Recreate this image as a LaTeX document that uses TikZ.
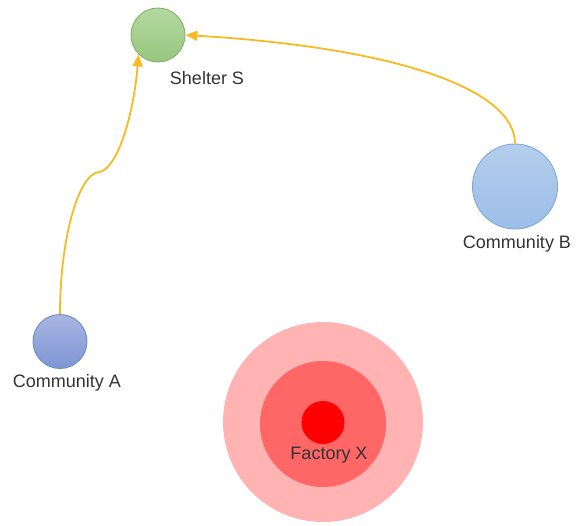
\documentclass[tikz,border=0pt]{standalone}
\usepackage{fontspec}
\setmainfont{Liberation Sans}
\usetikzlibrary{arrows.meta}
\definecolor{edgeorange}{HTML}{F9B920}
\definecolor{txt}{HTML}{333333}
\begin{document}
\begin{tikzpicture}[x=1pt,y=-1pt,
  lbl/.style={text=txt,font=\fontsize{18}{20}\selectfont,inner sep=0pt},
  site/.style={circle,draw,line width=0.9pt,inner sep=0pt},
  route/.style={draw=edgeorange,line width=1.8pt,-{Triangle[length=12pt,width=10pt]}}]
\useasboundingbox (0,0) rectangle (580,525);
% hazard zones around the factory
\node[circle,fill={rgb,255:red,255;green,179;blue,179},minimum size=200pt,inner sep=0pt] (zoneout) at (323,422) {};
\node[circle,fill={rgb,255:red,255;green,102;blue,102},minimum size=126pt,inner sep=0pt] (zonemid) at (323,424) {};
\node[circle,fill=red,minimum size=43pt,inner sep=0pt] (factory) at (323,422.5) {};
\node[lbl] (factorylbl) at (329,455) {Factory X};
% shelter and communities
\node[site,draw={rgb,255:red,130;green,179;blue,102},top color={rgb,255:red,180;green,216;blue,162},bottom color={rgb,255:red,151;green,199;blue,127},minimum size=54pt] (shelter) at (158,35) {};
\node[lbl] (shelterlbl) at (207,78) {Shelter S};
\node[site,draw={rgb,255:red,108;green,142;blue,191},top color={rgb,255:red,168;green,182;blue,226},bottom color={rgb,255:red,126;green,149;blue,212},minimum size=54pt] (commA) at (60,341.5) {};
\node[lbl] (commAlbl) at (67,383) {Community A};
\node[site,draw={rgb,255:red,126;green,166;blue,224},top color={rgb,255:red,180;green,205;blue,236},bottom color={rgb,255:red,157;green,190;blue,230},minimum size=85pt] (commB) at (515,186.5) {};
\node[lbl] (commBlbl) at (517,244) {Community B};
% evacuation routes
\coordinate (bend) at (99,172);
\draw[route] (commA.north) .. controls (60,240) and (78,174) .. (bend)
  .. controls (116,170) and (133,120) .. (shelter.south west);
\draw[route] (commB.north) .. controls (515,90) and (400,48) .. (shelter.east);
\end{tikzpicture}
\end{document}
